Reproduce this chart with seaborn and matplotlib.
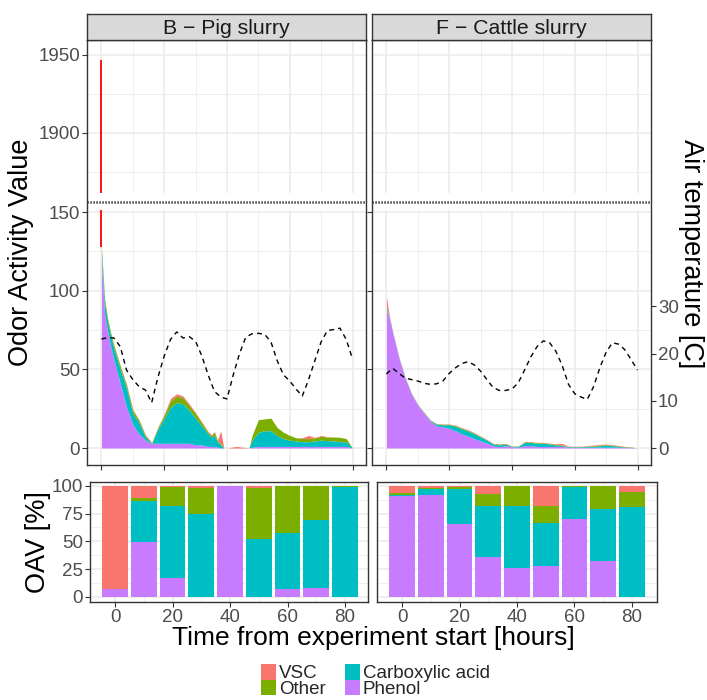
import numpy as np
import pandas as pd
import matplotlib
matplotlib.use("Agg")
import matplotlib.pyplot as plt
from matplotlib.patches import Patch
import seaborn as sns

# ---------------- data ----------------
classes = ["VSC", "Other", "Carboxylic acid", "Phenol"]
class_colors = ["#F8766D", "#7CAE00", "#00BFC4", "#C77CFF"]
facet_titles = ["B \u2212 Pig slurry", "F \u2212 Cattle slurry"]

# Odor activity values (stacked area), pig slurry
pig_time = [0, 1, 2, 3, 4, 6, 8, 10, 12, 14, 16, 18, 20, 22, 24, 26, 28, 30, 32, 34, 35, 36, 37, 38,
            39, 40, 43, 47, 48, 50, 52, 54, 56, 58, 60, 62, 64, 66, 68, 70, 72, 74, 76, 78, 80]
pig_phenol = [120, 85, 74, 64, 56, 41, 26, 15, 9, 5, 3, 3, 3, 3, 3, 3, 3, 2, 2, 1, 1, 1, 0.5, 0,
              0, 0, 0, 0, 0.5, 1, 1, 1, 1, 1, 1, 1, 1, 1, 1, 1, 1, 1, 1, 1, 0]
pig_carbox = [5, 7, 6, 7, 7, 9, 12, 7, 7, 2, 0, 9, 16, 23, 26, 25, 21, 17, 12, 8, 6, 7, 3.5, 2,
              0, 0, 0, 0, 4.5, 9, 10, 10, 7, 5, 4, 3.5, 3, 3, 3.5, 4, 3.7, 3.5, 3, 3, 0]
pig_other = [3, 3, 2, 2, 2, 2, 2, 2, 1.5, 1, 0.5, 1, 2, 4, 4, 4, 3, 3, 2, 1, 1, 2, 0.5, 1,
             0, 0, 0, 0, 3, 8, 7.5, 8, 5, 4, 3, 2, 2, 2, 2, 2.5, 2.3, 2.5, 2.8, 2, 0]
pig_vsc = [0, 0, 0, 0, 0.5, 0.5, 0.5, 0.5, 0.5, 0.5, 0, 0.5, 0.5, 1.5, 1.5, 1, 1, 0.5, 0.5, 0.5, 0.5, 0.5, 0.5, 8,
           0, 0, 1, 0, 0, 0, 0, 0, 0, 0, 0, 0, 0.5, 2, 0.3, 0.5, 0.2, 0, 0, 0, 0]
pig_vsc_peak = 1947

# Odor activity values (stacked area), cattle slurry
cattle_time = [0, 1, 2, 4, 6, 8, 10, 12, 14, 16, 18, 20, 22, 24, 26, 28, 30, 32, 34, 36, 38,
               40, 42, 44, 46, 48, 50, 52, 54, 56, 58, 60, 62, 64, 66, 68, 70, 72, 74, 76, 78, 80]
cattle_phenol = [88, 82, 73, 57, 44, 34, 27, 22, 17, 14, 13.5, 12.5, 11, 9, 7.5, 6, 4.5, 3, 1.5, 0.8, 1.5,
                 0.8, 0.5, 1.5, 1.5, 1, 1, 1, 1, 1, 0.5, 0.5, 0.5, 0.5, 0.5, 0.5, 0.5, 0.5, 0.5, 0.3, 0.3, 0]
cattle_carbox = [1, 0.5, 0.3, 0.3, 0.3, 0.3, 0.3, 0.3, 0.5, 1, 1.3, 2.3, 2.8, 3.2, 3.3, 3, 2.5, 2, 1, 1.2, 1,
                 0.2, 0.5, 2, 2, 2, 2, 1.5, 1, 0.5, 0.3, 0.3, 0.3, 0.5, 0.5, 1, 1.3, 1, 0.5, 0.3, 0.2, 0]
cattle_other = [1, 0.5, 0.3, 0.2, 0.2, 0.2, 0.2, 0.2, 0.2, 0.3, 0.3, 0.3, 0.5, 0.5, 0.5, 0.5, 0.4, 0.3, 0.2, 0.5, 0.3,
                0.2, 0.2, 0.4, 0.4, 0.4, 0.4, 0.4, 0.4, 0.4, 0.2, 0.2, 0.2, 0.3, 0.4, 0.4, 0.3, 0.4, 0.3, 0.2, 0.1, 0]
cattle_vsc = [6, 0.3, 0.2, 0.2, 0.2, 0.2, 0.2, 0.2, 0.2, 0.2, 0.2, 0.2, 0.3, 0.3, 0.3, 0.3, 0.2, 0.2, 0.2, 0.2, 0.2,
              0.1, 0.1, 0.2, 0.2, 0.2, 0.2, 0.2, 0.3, 1, 0.2, 0.1, 0.1, 0.2, 0.5, 0.4, 0.4, 0.3, 0.3, 0.2, 0.1, 0]

# Air temperature [C]
temp_time = [0, 2, 4, 6, 8, 10, 12, 14, 16, 18, 20, 22, 24, 26, 28, 30, 32, 34, 36, 38, 40,
             42, 44, 46, 48, 50, 52, 54, 56, 58, 60, 62, 64, 66, 68, 70, 72, 74, 76, 78, 80]
pig_temp = [23.1, 23.4, 23.3, 21.5, 16.5, 14.5, 13.0, 12.3, 9.6, 15.0, 19.5, 23.0, 24.6, 23.3, 23.6, 22.6,
            19.5, 15.5, 12.0, 10.8, 10.4, 15.5, 20.0, 23.5, 24.2, 24.3, 24.1, 22.5, 18.5, 15.5, 14.2, 12.5,
            11.0, 14.5, 18.5, 22.5, 24.9, 25.1, 25.4, 23.0, 18.9]
cattle_temp = [15.7, 16.9, 15.8, 14.8, 14.5, 14.2, 13.7, 13.5, 13.6, 14.2, 15.8, 17.0, 17.9, 18.3, 17.6, 16.3,
               14.5, 12.8, 12.2, 12.2, 12.5, 13.8, 16.5, 19.3, 21.5, 22.7, 22.3, 20.5, 17.5, 13.5, 11.5, 10.8,
               10.3, 13.0, 17.0, 20.3, 22.3, 22.0, 20.8, 18.7, 16.5]

# OAV share [%] per 10-hour bin
bar_time = [0, 10, 20, 30, 40, 50, 60, 70, 80]
pig_pct_phenol = [6.5, 49.7, 16.6, 0, 100, 0, 6.9, 8.1, 0]
pig_pct_carbox = [0.5, 37.0, 65.6, 74.7, 0, 51.8, 50.3, 61.2, 99.5]
pig_pct_other = [0.2, 2.8, 16.8, 23.8, 0, 46.7, 42.8, 30.7, 0.3]
pig_pct_vsc = [92.8, 10.5, 1.0, 1.5, 0, 1.5, 0, 0, 0.2]
cattle_pct_phenol = [91.3, 92.2, 65.7, 36.1, 26.2, 28.0, 70.2, 32.2, 0]
cattle_pct_carbox = [0.6, 5.4, 31.3, 46.1, 56.0, 38.3, 28.6, 46.7, 80.7]
cattle_pct_other = [1.8, 0.4, 2.4, 10.8, 17.8, 15.9, 0.8, 21.1, 13.6]
cattle_pct_vsc = [6.3, 2.0, 0.6, 7.0, 0, 17.8, 0.4, 0, 5.7]

# ---------------- style ----------------
sns.set_theme(style="ticks")
plt.rcParams['font.family'] = ['Liberation Sans', 'DejaVu Sans']
plt.rcParams['axes.unicode_minus'] = True

GRID = "#EBEBEB"
BORDER = "#333333"
TICKC = "#333333"
LABC = "#4D4D4D"
TICKSIZE = 13.5
TITLESIZE = 19.5

W, H = 707, 700
fig = plt.figure(figsize=(W / 100, H / 100), dpi=100)
fig.patch.set_facecolor("white")


def rect(x0, x1, y0, y1):
    return [x0 / W, 1 - y1 / H, (x1 - x0) / W, (y1 - y0) / H]


def base_style(ax, xmaj, xmin, ymaj, ymin):
    ax.set_xticks(xmaj)
    ax.set_xticks(xmin, minor=True)
    ax.set_yticks(ymaj)
    ax.set_yticks(ymin, minor=True)
    ax.grid(True, which='major', color=GRID, lw=1.1)
    ax.grid(True, which='minor', color=GRID, lw=0.55)
    ax.set_axisbelow(True)
    ax.tick_params(which='minor', length=0)
    ax.tick_params(which='major', length=3.5, width=0.8, color=TICKC, labelcolor=LABC,
                   labelsize=TICKSIZE, pad=1.5, direction='out')
    ax.set_xlabel("")
    ax.set_ylabel("")


stack_colors = [class_colors[3], class_colors[2], class_colors[1], class_colors[0]]

area_data = [
    (pig_time, pig_phenol, pig_carbox, pig_other, pig_vsc, pig_temp, pig_vsc_peak),
    (cattle_time, cattle_phenol, cattle_carbox, cattle_other, cattle_vsc, cattle_temp, None),
]
top_x = [(87, 366), (372, 651)]
UP_Y = (40, 193)
LO_Y = (210, 465)
LO_YLIM = (-10.8, 151.3)
UP_YLIM = (1861.5, 1959.6)
TOP_XLIM = (-4.6, 84.3)

for i, (t, ph, ca, ot, vs, temp, peak) in enumerate(area_data):
    x0, x1 = top_x[i]
    ax_up = fig.add_axes(rect(x0, x1, *UP_Y))
    ax_lo = fig.add_axes(rect(x0, x1, *LO_Y))
    for ax in (ax_up, ax_lo):
        ax.stackplot(t, ph, ca, ot, vs, colors=stack_colors, linewidth=0)
        ax.set_xlim(*TOP_XLIM)
        for s in ax.spines.values():
            s.set_visible(False)
        ax.set_facecolor("white")
    if peak is not None:
        top0 = ph[0] + ca[0] + ot[0] + vs[0]
        for ax in (ax_up, ax_lo):
            ax.plot([t[0], t[0]], [top0, peak], color="red", lw=1.3, solid_capstyle='butt')
    ax_up.set_ylim(*UP_YLIM)
    ax_lo.set_ylim(*LO_YLIM)
    base_style(ax_up, [0, 20, 40, 60, 80], [10, 30, 50, 70], [1900, 1950], [1875, 1925])
    base_style(ax_lo, [0, 20, 40, 60, 80], [10, 30, 50, 70], [0, 50, 100, 150], [25, 75, 125])
    ax_up.tick_params(axis='x', which='both', bottom=False, labelbottom=False)
    ax_lo.tick_params(axis='x', which='major', bottom=True, labelbottom=False)
    if i == 0:
        ax_up.tick_params(axis='y', left=True, labelleft=True)
        ax_lo.tick_params(axis='y', left=True, labelleft=True)
    else:
        ax_up.tick_params(axis='y', which='both', left=False, labelleft=False)
        ax_lo.tick_params(axis='y', which='both', left=False, labelleft=False)

    # air temperature on its own (secondary) scale
    tw = ax_lo.twinx()
    df_t = pd.DataFrame({"time": temp_time, "temp": temp})
    sns.lineplot(data=df_t, x="time", y="temp", ax=tw, color="black", lw=1.0,
                 linestyle=(0, (3.5, 3.0)), sort=False)
    tw.set_ylim(LO_YLIM[0] / 3, LO_YLIM[1] / 3)
    tw.set_xlim(*TOP_XLIM)
    tw.set_xlabel("")
    tw.set_ylabel("")
    for s in tw.spines.values():
        s.set_visible(False)
    tw.set_yticks([0, 10, 20, 30])
    tw.tick_params(axis='y', which='minor', length=0)
    if i == 1:
        tw.tick_params(axis='y', right=True, labelright=True, length=3.5, width=0.8, color=TICKC,
                       labelcolor=LABC, labelsize=TICKSIZE, pad=1.5)
    else:
        tw.tick_params(axis='y', right=False, labelright=False)

    # panel frame and break marker
    frame = fig.add_axes(rect(x0, x1, UP_Y[0], LO_Y[1]), zorder=5)
    frame.set_facecolor("none")
    frame.set_xlim(0, 1)
    frame.set_ylim(0, 1)
    frame.set_xticks([])
    frame.set_yticks([])
    for s in frame.spines.values():
        s.set_color(BORDER)
        s.set_linewidth(1.0)
    yb = (LO_Y[1] - 202) / (LO_Y[1] - UP_Y[0])
    frame.plot([0, 1], [yb, yb], color="black", lw=1.8, linestyle=(0, (0.45, 0.75)),
               dash_capstyle='butt')

    # facet strip
    strip = fig.add_axes(rect(x0, x1, 14, 40), zorder=5)
    strip.set_facecolor("#D9D9D9")
    strip.set_xticks([])
    strip.set_yticks([])
    for s in strip.spines.values():
        s.set_color(BORDER)
        s.set_linewidth(1.0)
    strip.text(0.5, 0.45, facet_titles[i], ha='center', va='center', fontsize=15.3,
               color="#1A1A1A", transform=strip.transAxes)

# ---------------- bottom: percent bars ----------------
bar_data = [
    (pig_pct_phenol, pig_pct_carbox, pig_pct_other, pig_pct_vsc),
    (cattle_pct_phenol, cattle_pct_carbox, cattle_pct_other, cattle_pct_vsc),
]
bot_x = [(90, 368), (377, 657)]
bot_xlim = [(-8.7, 88.0), (-8.7, 88.7)]
for i, layers in enumerate(bar_data):
    x0, x1 = bot_x[i]
    ax = fig.add_axes(rect(x0, x1, 482, 602))
    bottom = np.zeros(len(bar_time))
    for vals, col in zip(layers, stack_colors):
        vals = np.asarray(vals, dtype=float)
        ax.bar(bar_time, vals, width=9, bottom=bottom, color=col, linewidth=0)
        bottom = bottom + vals
    ax.set_xlim(*bot_xlim[i])
    ax.set_ylim(-4.8, 103.6)
    base_style(ax, [0, 20, 40, 60, 80], [10, 30, 50, 70], [0, 25, 50, 75, 100], [12.5, 37.5, 62.5, 87.5])
    for s in ax.spines.values():
        s.set_color(BORDER)
        s.set_linewidth(1.0)
    ax.tick_params(axis='x', bottom=True, labelbottom=True)
    if i == 0:
        ax.tick_params(axis='y', left=True, labelleft=True)
    else:
        ax.tick_params(axis='y', which='both', left=False, labelleft=False)

# ---------------- titles and legend ----------------
fig.text(21 / W, 1 - 252 / H, "Odor Activity Value", rotation=90, ha='center', va='center',
         fontsize=TITLESIZE, color="black")
fig.text(691 / W, 1 - 254 / H, "Air temperature [C]", rotation=270, ha='center', va='center',
         fontsize=TITLESIZE, color="black")
fig.text(38 / W, 1 - 542 / H, "OAV [%]", rotation=90, ha='center', va='center',
         fontsize=TITLESIZE, color="black")
fig.text(373.5 / W, 1 - 645 / H, "Time from experiment start [hours]", ha='center', va='baseline',
         fontsize=19, color="black")

handles = [Patch(facecolor=c, edgecolor='none') for c in class_colors]
fig.legend(handles, classes, ncol=2, loc='center', bbox_to_anchor=(375.5 / W, 1 - 681 / H),
           frameon=False, fontsize=TICKSIZE, handlelength=0.8, handleheight=0.9,
           handletextpad=0.15, columnspacing=1.0, labelspacing=-0.15, borderpad=0,
           borderaxespad=0)

fig.savefig("out.png", dpi=100)
